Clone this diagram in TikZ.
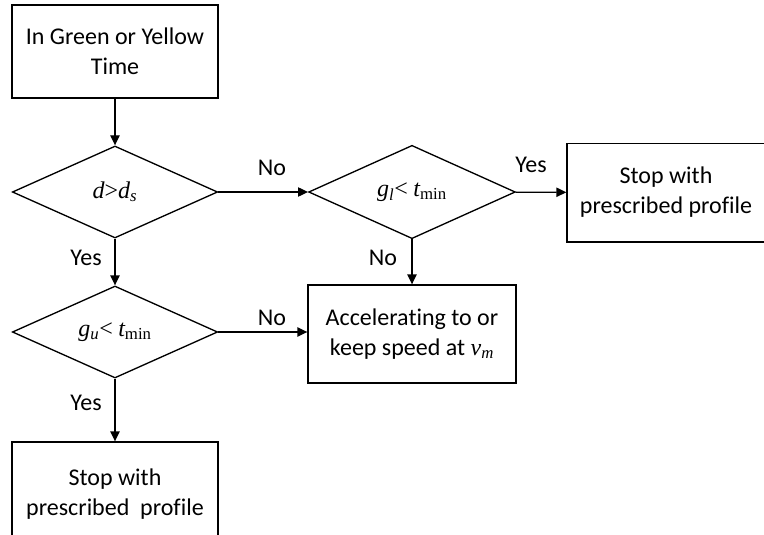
\documentclass[tikz,border=0pt]{standalone}
\usepackage{fontspec}
\setmainfont{Carlito}[Ligatures=NoCommon]
\newfontfamily\mathserif{Liberation Serif}
\usetikzlibrary{shapes.geometric,arrows.meta}
\providecommand{\var}[1]{{\mathserif\itshape #1}}

\begin{document}
\begin{tikzpicture}[x=0.75pt,y=-0.75pt,
    font=\fontsize{18pt}{22.5pt}\selectfont,
    box/.style={draw,line width=1pt,align=center,inner sep=0pt},
    decision/.style={draw,diamond,aspect=2.2,line width=1pt,inner sep=0pt,
        minimum width=154pt,minimum height=69pt},
    arrow/.style={line width=1pt,-{Triangle[length=7.5pt,width=7pt]}},
    tag/.style={inner sep=0pt}]
    \pgfmathsetmacro{\boxwidth}{206*0.75}  % pixels to pt
    \pgfmathsetmacro{\boxheight}{93*0.75}
    \useasboundingbox (0,0) rectangle (764,535);
    \node[box,minimum width=\boxwidth pt,minimum height=\boxheight pt] (start) at (115,51.5) {In Green or Yellow\\Time};
    \node[decision] (dist) at (115,192) {\var{d}{\mathserif >}\var{d}\textsubscript{\var{s}}};
    \node[decision,minimum width=155pt,minimum height=70pt] (lower) at (412,192) {\var{g}\textsubscript{\var{l}}{\mathserif <} \var{t}\textsubscript{\mathserif min}};
    \node[box,minimum width=148.5pt,minimum height=74pt] (stopright) at (666,192.5) {Stop with\\prescribed profile};
    \node[decision] (upper) at (115,332) {\var{g}\textsubscript{\var{u}}{\mathserif <} \var{t}\textsubscript{\mathserif min}};
    \node[box,minimum width=156pt,minimum height=73.5pt] (accel) at (412,334) {Accelerating to or\\keep speed at \var{v}\textsubscript{\var{m}}};
    \node[box,minimum width=\boxwidth pt,minimum height=78pt] (stopbottom) at (115,494) {Stop with\\prescribed\ \ profile};
    % branch labels
    \node[tag] (nodist) at (272,168) {No};
    \node[tag] (yeslower) at (531,165) {Yes};
    \node[tag] (nolower) at (383,258) {No};
    \node[tag] (yesdist) at (86,258) {Yes};
    \node[tag] (noupper) at (272,318) {No};
    \node[tag] (yesupper) at (86,403) {Yes};
    \draw[arrow] (start) -- (dist);
    \draw[arrow] (dist) -- (lower);
    \draw[arrow] (lower) -- (stopright);
    \draw[arrow] (lower) -- (accel);
    \draw[arrow] (dist) -- (upper);
    \draw[arrow] (upper.east) -- (upper.east -| accel.west);
    \draw[arrow] (upper) -- (stopbottom);
\end{tikzpicture}
\end{document}
